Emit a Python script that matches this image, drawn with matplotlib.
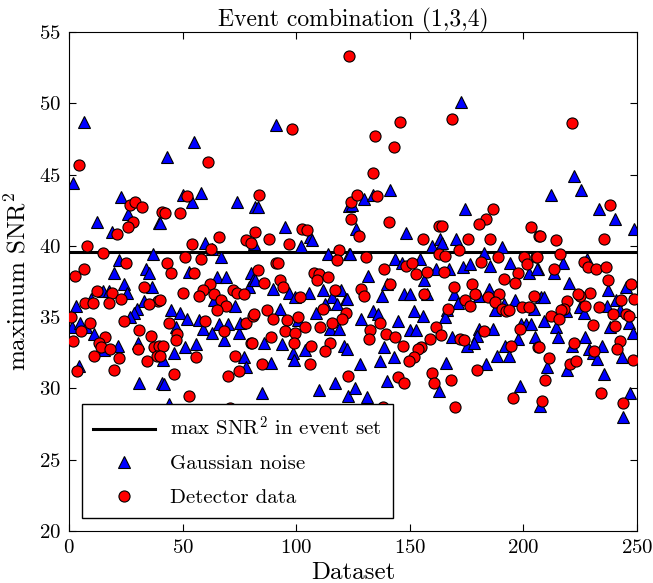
import matplotlib
matplotlib.use('Agg')
import matplotlib.pyplot as plt

plt.rcParams['font.family'] = ['cmr10', 'DejaVu Serif']
plt.rcParams['mathtext.fontset'] = 'cm'
plt.rcParams['axes.formatter.use_mathtext'] = True

# max SNR^2 of the event set
max_snr = 39.6

# Gaussian noise (triangles): dataset index, max SNR^2
tri_x = [6.5, 1.8, 23, 26, 12.3, 19, 39.5, 22, 37, 20, 34, 35, 36.5, 24, 25.5, 15, 17.5, 9.7, 3,
         33, 30, 28.5, 1.3, 5, 7.5, 27, 11, 15.3, 21.5, 30.4, 31, 41, 4.3,
         55, 43, 50, 54, 58, 74, 40, 82, 59.7, 63, 67, 53, 65, 69, 80, 79, 81, 63.7, 73, 45, 49,
         52, 47, 57, 59, 63, 66, 70, 75, 75.4, 68, 41.4, 46, 51, 56, 77, 78, 42, 44,
         91, 83, 123.4, 95, 106, 102, 107, 81.4, 114, 123.4, 82, 90, 97, 99.6, 105.8, 111.7, 119.8,
         115.8, 122, 118, 112.5, 93, 108.7, 100.8, 114.7, 119, 86, 93.8, 103.7, 98.6, 99.2, 121,
         89, 85, 110, 117, 123,
         124.6, 129.7, 133.8, 141.4, 126.5, 148.5, 159.8, 163.4, 123.8, 143.6, 146.6, 154.6, 161.7,
         156.4, 131.5, 140, 137.8, 147.3, 150, 157.6, 122.4, 134, 136, 151.7, 155.8, 128.7, 144.7,
         166.4, 150.2, 152.9, 138.8, 142.9, 136.7, 128, 122.4, 140, 126, 131, 162.7,
         172.5, 174.4, 170.3, 190.6, 164.2, 173.3, 176.6, 182.5, 185.4, 194.2, 202.6, 206.4, 167.4,
         169.6, 184.7, 171.2, 180.3, 187.4, 191.3, 196.4, 204.5, 207.9, 165.6, 199, 201.2, 203.4,
         205.2, 197.6, 180.3, 179.6, 186.5, 168.6, 175.2, 178.1, 192, 193.5, 188.4, 166, 183.5, 198.5,
         222.4, 225.4, 212.3, 233.3, 240.2, 248.8, 217.4, 228, 206, 213.3, 220.2, 237.1, 245.3,
         208.9, 240.9, 242.7, 224.8, 226.5, 236.8, 218.9, 209.2, 214.4, 238.3, 246.3, 248.2, 215.4,
         227.2, 221.4, 228.7, 230.6, 234.6, 232.4, 243.4, 210.4, 219.2, 235.5, 247, 244, 207.4]
tri_y = [48.7, 44.4, 43.4, 42.2, 41.7, 41.0, 41.6, 39.0, 39.4, 38.1, 38.4, 38.1, 37.1, 37.3, 36.7, 36.8, 36.8, 36.3, 35.8,
         36.1, 35.6, 35.3, 34.3, 34.6, 34.3, 35.0, 33.8, 32.7, 33.0, 33.2, 30.4, 30.4, 31.6,
         47.3, 46.2, 43.6, 43.1, 43.7, 43.1, 41.6, 42.7, 40.2, 39.8, 39.2, 38.2, 37.8, 37.8, 38.1, 37.1, 37.6, 36.2, 35.8, 35.5, 35.3,
         34.9, 34.3, 34.8, 34.2, 33.9, 34.5, 34.5, 33.9, 34.6, 33.4, 32.0, 32.5, 32.9, 33.1, 32.2, 31.5, 30.3, 28.9,
         48.5, 42.7, 42.8, 41.3, 40.6, 40.0, 40.4, 40.1, 39.4, 39.4, 37.6, 37.0, 36.7, 36.4, 36.7, 36.9, 36.9,
         36.4, 36.3, 35.9, 35.9, 35.6, 35.3, 34.8, 34.2, 34.2, 33.2, 33.1, 32.7, 32.5, 32.0, 33.0,
         31.8, 29.7, 29.9, 30.4, 29.5,
         42.9, 43.3, 43.6, 43.9, 41.2, 40.9, 40.0, 40.5, 39.4, 39.1, 38.8, 39.1, 38.4,
         37.6, 37.9, 37.3, 36.5, 36.6, 36.6, 36.6, 36.3, 35.4, 35.2, 35.4, 35.1, 34.9, 34.7,
         35.5, 34.1, 34.1, 32.9, 32.2, 31.95, 31.7, 32.8, 30.5, 30.0, 29.4, 29.8,
         50.1, 42.6, 40.5, 39.9, 40.2, 38.5, 38.7, 39.5, 38.6, 38.8, 38.1, 38.4, 38.4,
         36.6, 37.0, 36.0, 36.5, 35.5, 35.9, 36.2, 35.6, 36.4, 35.0, 34.5, 34.5, 34.5,
         33.6, 33.5, 34.2, 33.7, 34.2, 33.6, 33.0, 33.2, 33.0, 32.3, 32.3, 31.8, 31.7, 30.2,
         44.9, 43.9, 43.6, 42.6, 41.9, 41.2, 38.8, 39.1, 38.4, 38.1, 37.4, 36.9, 37.1,
         36.4, 36.2, 35.5, 35.7, 35.3, 35.8, 35.4, 34.75, 34.3, 34.3, 34.6, 33.9, 33.6,
         33.6, 33.0, 32.75, 32.5, 33.0, 32.05, 32.2, 31.5, 31.3, 31.0, 29.7, 28.0, 28.8]

# Detector data (circles): dataset index, max SNR^2
circ_x = [4.5, 27, 29, 32, 28, 26, 21, 41, 8, 15, 25, 6.5, 2.5, 33, 12.3, 19, 23, 7, 10.5, 17.5, 39,
          35, 1, 5.4, 9.4, 24, 31, 36, 1.6, 16, 13.3, 14.2, 18, 30.4, 37.3, 39.5, 38.7, 11, 22, 34.3,
          3.5, 20,
          61, 52, 42.4, 49, 66, 78, 80, 82, 83.5, 54, 62.6, 58, 51, 43, 45, 55, 62, 59, 57, 50, 64, 67,
          69, 65, 72, 74, 77, 40, 44, 60, 68, 78, 81, 47.5, 47, 80, 41.4, 40.2, 56, 73, 75, 70, 46, 53, 71,
          123.4, 98, 124, 124, 88, 102.5, 104.8, 97, 119, 118, 83, 91, 92, 107.7, 110, 109, 114, 86, 93,
          94, 101.8, 117, 81.3, 87, 90, 96, 101, 111.8, 122, 120, 115.8, 104, 110.6, 95, 99.6, 89, 98.9,
          106.6, 114.7, 112.8, 80.5, 85, 106, 123,
          145.5, 134.8, 143, 133.8, 126.8, 135.6, 140.7, 127.8, 155.8, 162.7, 130.9, 138.8, 148.5, 151,
          152.9, 157.6, 164.9, 162.7, 141.4, 128.7, 129.7, 156.4, 136.7, 132.6, 131.9, 139.7, 143.6, 147,
          161.7, 163.7, 158.8, 155, 153.5, 151.7, 149.5, 144.7, 147.6, 159.8, 160.8, 138,
          168.6, 186.5, 183.5, 180.6, 164.2, 203.5, 206.7, 175.6, 185.4, 171.5, 165.6, 181.5, 188.8, 200.1,
          201.6, 205.7, 197.6, 191.3, 196.4, 169.6, 177.4, 178.6, 174.4, 176.6, 184.4, 189.4, 187.4, 190.6,
          192.3, 193.5, 199.4, 202.6, 204.5, 166.8, 198.4, 206.4, 172.2, 173.7, 182.5, 194.5, 179.5, 168,
          195.5, 170,
          221.4, 238.3, 207.4, 214.4, 235.3, 216.2, 206, 213.3, 226.5, 228.3, 232.1, 236.4, 237.2, 247.4,
          248.8, 229.5, 225, 223.9, 219.2, 218, 216.5, 227.2, 233.1, 242.9, 212.3, 215.5, 239.4, 245.3,
          246.3, 230.5, 240.4, 222.4, 242.4, 241.2, 206.7, 248.2, 231.2, 211.4, 220.4, 223.3, 209.5, 234,
          208, 244]
circ_y = [45.7, 42.9, 43.1, 42.7, 41.7, 41.3, 40.8, 42.4, 40.0, 39.5, 38.8, 38.4, 37.9, 37.1, 36.8, 36.7, 36.3, 36.0, 36.0, 36.0, 36.1,
          35.9, 35.0, 34.0, 34.6, 34.7, 34.1, 33.7, 33.3, 33.6, 33.2, 32.9, 32.8, 32.8, 32.9, 33.0, 32.3, 32.3, 32.1, 31.9,
          31.2, 31.3,
          45.9, 43.5, 42.3, 42.3, 40.6, 40.4, 40.2, 41.0, 43.6, 40.1, 39.8, 39.1, 39.2, 38.8, 38.1, 38.1, 37.3, 36.9, 36.5, 36.7, 36.6, 36.2,
          35.8, 35.5, 36.9, 36.7, 36.6, 36.2, 34.6, 34.7, 34.0, 34.6, 35.1, 33.8, 33.4, 33.2, 33.0, 32.3, 32.2, 32.3, 31.2, 30.9, 31.0, 29.5, 28.6,
          53.3, 48.2, 43.1, 41.9, 40.5, 41.2, 41.1, 40.1, 39.7, 39.0, 38.3, 38.8, 38.8, 38.1, 38.0, 37.6, 37.8, 37.4, 37.6,
          37.1, 36.4, 36.9, 35.2, 35.5, 34.9, 34.8, 35.0, 35.6, 35.3, 34.9, 34.6, 34.3, 34.3, 34.0, 33.9, 33.6, 33.2,
          33.0, 33.2, 32.6, 33.2, 31.7, 31.7, 30.9,
          48.7, 47.7, 46.9, 45.1, 43.6, 43.5, 41.7, 40.7, 40.5, 41.4, 39.2, 38.4, 38.6, 38.8,
          38.0, 38.2, 38.2, 39.4, 37.3, 36.95, 36.5, 36.6, 34.6, 34.1, 33.5, 33.8, 33.6, 33.0,
          34.3, 33.75, 33.5, 32.9, 32.8, 32.2, 31.9, 30.8, 30.4, 31.1, 30.4, 28.7,
          48.9, 42.6, 41.9, 41.5, 41.4, 41.3, 40.7, 40.5, 40.5, 39.7, 39.3, 38.9, 39.2, 39.2,
          38.7, 39.2, 38.1, 37.7, 37.4, 37.1, 37.3, 36.6, 36.2, 35.8, 36.4, 36.6, 36.05, 35.6,
          35.4, 35.5, 35.7, 35.7, 36.5, 35.6, 34.15, 32.9, 33.5, 33.4, 34.0, 33.0, 31.3, 30.6,
          29.3, 28.7,
          48.6, 42.9, 40.7, 40.4, 40.5, 39.4, 39.2, 38.4, 38.9, 38.5, 38.4, 38.5, 37.6, 37.3,
          36.3, 36.7, 36.5, 36.6, 36.1, 35.6, 35.5, 35.8, 35.7, 36.2, 35.1, 34.9, 35.2, 35.2,
          35.1, 34.45, 34.4, 33.2, 33.3, 32.8, 32.9, 32.0, 32.65, 32.1, 31.7, 31.9, 30.6, 29.7,
          29.1, 29.0]

fig = plt.figure(figsize=(6.53, 5.83), dpi=100)
ax = fig.add_axes([0.1057, 0.0892, 0.8698, 0.8559])

ax.axhline(max_snr, color='black', linewidth=2.2, label='max SNR$^2$ in event set', zorder=1)
ax.plot(tri_x, tri_y, linestyle='none', marker='^', markersize=9, markerfacecolor='#0000ff',
        markeredgecolor='black', markeredgewidth=0.8, label='Gaussian noise', zorder=2)
ax.plot(circ_x, circ_y, linestyle='none', marker='o', markersize=8, markerfacecolor='#ff0000',
        markeredgecolor='black', markeredgewidth=0.8, label='Detector data', zorder=3)

ax.set_xlim(0, 250)
ax.set_ylim(20, 55)
ax.set_xticks(range(0, 251, 50))
ax.set_yticks(range(20, 56, 5))
ax.tick_params(direction='in', top=True, right=True, length=5, width=0.8, labelsize=15, pad=6)

ax.set_title('Event combination (1,3,4)', fontsize=17, pad=4)
ax.set_xlabel('Dataset', fontsize=18, labelpad=3)
ax.set_ylabel('maximum SNR$^2$', fontsize=18, labelpad=6)

leg = ax.legend(loc='lower left', fontsize=15, numpoints=1, fancybox=False, framealpha=1,
                edgecolor='black', handlelength=3.0, handletextpad=0.7, labelspacing=0.72,
                borderpad=0.55, borderaxespad=0.6)
leg.get_frame().set_linewidth(1.0)

fig.savefig('out.png', dpi=100)
